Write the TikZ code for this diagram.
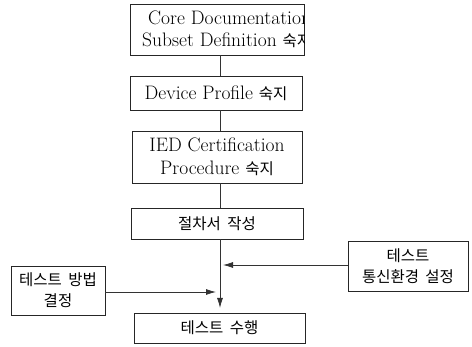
\documentclass[tikz,border=0pt]{standalone}
\usepackage{fontspec}
\newfontfamily\kor[WordSpace=1.8]{Noto Sans CJK KR}
\usetikzlibrary{arrows.meta}
\newcommand{\ko}[1]{{\kor\fontsize{15.5}{23}\selectfont #1}}
\begin{document}
\begin{tikzpicture}[x=1pt,y=-1pt,
  box/.style={draw=black!85, line width=0.8pt, rectangle, inner sep=0pt, align=center,
    font=\fontsize{19.5}{23}\selectfont},
  kbox/.style={box, font=\kor\fontsize{15.5}{21}\selectfont},
  ltxt/.style={anchor=base west, inner sep=0pt, font=\fontsize{19.5}{22}\selectfont},
  link/.style={draw=black!80, line width=0.8pt},
  arr/.style={link, -{Latex[length=10pt,width=6pt]}}]
\useasboundingbox (0,0) rectangle (472,347);
% boxes
\node[box, minimum width=174pt, minimum height=51pt] (b1) at (217,29.5) {};
\begin{scope}
  \clip (b1.north west) rectangle (b1.south east);
  \node[ltxt] (t1a) at (148,25) {Core Documentation};
  \node[ltxt] (t1b) at (142,47) {Subset Definition \ko{숙지}};
\end{scope}
\node[box, minimum width=172pt, minimum height=34pt] (b2) at (216,93) {Device Profile \ko{숙지}};
\node[box, minimum width=170pt, minimum height=52pt] (b3) at (217,157) {IED Certification\\Procedure \ko{숙지}};
\node[kbox, minimum width=172pt, minimum height=31pt] (b4) at (217,223.5) {절차서 작성};
\node[kbox, minimum width=171pt, minimum height=30pt] (b5) at (219.5,328) {테스트 수행};
\node[kbox, minimum width=94pt, minimum height=49pt] (lb) at (58,290.5) {테스트 방법\\결정};
\node[kbox, minimum width=120pt, minimum height=50pt] (rb) at (408,266) {테스트\\통신환경 설정};
% connectors
\coordinate (ax) at (220,0);
\coordinate (tipd) at (220,308);
\coordinate (tipr) at (223,265);
\coordinate (tipl) at (216,292);
\draw[link] (b1.south -| ax) -- (b2.north -| ax);
\draw[link] (b2.south -| ax) -- (b3.north -| ax);
\draw[link] (b3.south -| ax) -- (b4.north -| ax);
\draw[arr] (b4.south -| ax) -- (tipd);
\draw[arr] (rb.west |- tipr) -- (tipr);
\draw[arr] (lb.east |- tipl) -- (tipl);
\end{tikzpicture}
\end{document}
